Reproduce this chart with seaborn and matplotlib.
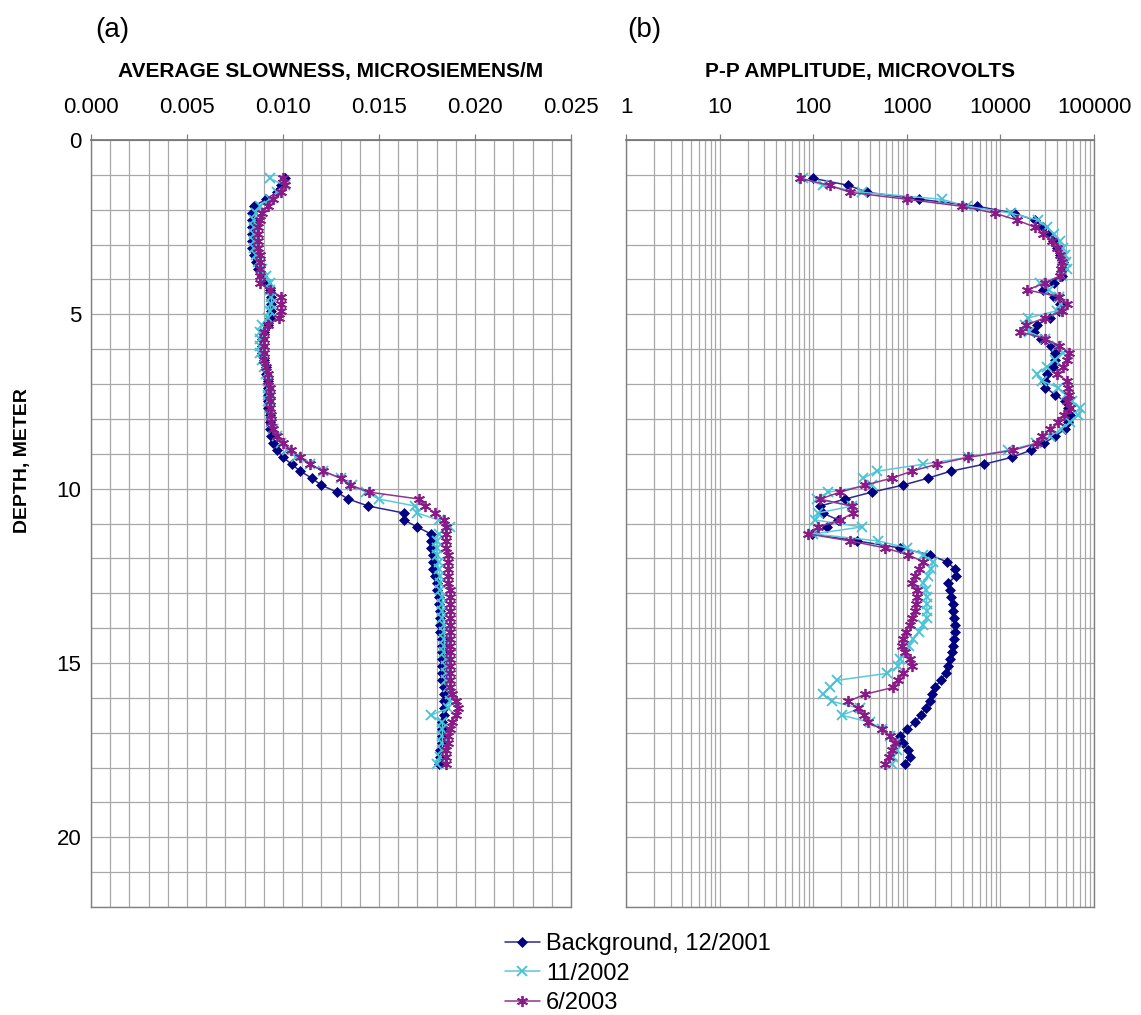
import numpy as np
import pandas as pd
import matplotlib
matplotlib.use("Agg")
import matplotlib.pyplot as plt
import matplotlib.ticker as mticker
import seaborn as sns

# ---------------- data ----------------
depth = [1.1, 1.3, 1.5, 1.7, 1.9, 2.1, 2.3, 2.5, 2.7, 2.9, 3.1, 3.3, 3.5, 3.7, 3.9,
         4.1, 4.3, 4.5, 4.7, 4.9, 5.1, 5.3, 5.5, 5.7, 5.9, 6.1, 6.3, 6.5, 6.7, 6.9,
         7.1, 7.3, 7.5, 7.7, 7.9, 8.1, 8.3, 8.5, 8.7, 8.9, 9.1, 9.3, 9.5, 9.7, 9.9,
         10.1, 10.3, 10.5, 10.7, 10.9, 11.1, 11.3, 11.5, 11.7, 11.9, 12.1, 12.3, 12.5,
         12.7, 12.9, 13.1, 13.3, 13.5, 13.7, 13.9, 14.1, 14.3, 14.5, 14.7, 14.9, 15.1,
         15.3, 15.5, 15.7, 15.9, 16.1, 16.3, 16.5, 16.7, 16.9, 17.1, 17.3, 17.5, 17.7, 17.9]

slow_bg = [0.0101, 0.0099, 0.0097, 0.0091, 0.0085, 0.0084, 0.0084, 0.0084, 0.0084, 0.0084,
           0.0084, 0.0085, 0.0086, 0.0087, 0.0089, 0.0091, 0.0093, 0.0094, 0.0094, 0.0094,
           0.0093, 0.0092, 0.0090, 0.0089, 0.0089, 0.0089, 0.0090, 0.0091, 0.0091, 0.0092,
           0.0092, 0.0092, 0.0092, 0.0092, 0.0093, 0.0093, 0.0093, 0.0094, 0.0095, 0.0097,
           0.0100, 0.01045, 0.0109, 0.0115, 0.0120, 0.0128, 0.0134, 0.01445, 0.0163, 0.0163,
           0.0170, 0.0177, 0.0177, 0.0177, 0.0178, 0.0178, 0.0178, 0.0179, 0.0180, 0.0180,
           0.0181, 0.0181, 0.0182, 0.0182, 0.0182, 0.0182, 0.0183, 0.0183, 0.0183, 0.0183,
           0.0183, 0.0183, 0.0183, 0.0184, 0.0184, 0.0184, 0.0184, 0.0184, 0.0183, 0.0183,
           0.0183, 0.0183, 0.0182, 0.0182, 0.0181]

slow_2002 = [0.0093, 0.0101, 0.0097, 0.0093, 0.0088, 0.0086, 0.0085, 0.0085, 0.0085, 0.0085,
             0.0085, 0.0086, 0.0087, 0.0089, 0.0091, 0.0093, 0.0093, 0.0094, 0.0094, 0.0093,
             0.0092, 0.0089, 0.0088, 0.0088, 0.0088, 0.0088, 0.0089, 0.0090, 0.0091, 0.0092,
             0.0092, 0.0092, 0.0092, 0.0093, 0.0093, 0.0094, 0.0095, 0.0097, 0.0099, 0.0102,
             0.0107, 0.0114, 0.0121, 0.0130, 0.0136, 0.0143, 0.0150, 0.0169, 0.0170, 0.0181,
             0.0187, 0.0181, 0.0180, 0.0180, 0.0180, 0.0181, 0.0181, 0.0182, 0.0182, 0.0182,
             0.0183, 0.0183, 0.0183, 0.0183, 0.0184, 0.0184, 0.0184, 0.0184, 0.0184, 0.0185,
             0.0185, 0.0185, 0.0185, 0.0186, 0.0187, 0.0187, 0.0186, 0.0177, 0.0183, 0.0183,
             0.0183, 0.0183, 0.0183, 0.0182, 0.0180]

slow_2003 = [0.0100, 0.0101, 0.0099, 0.0095, 0.0092, 0.0089, 0.0088, 0.0087, 0.0087, 0.0087,
             0.0087, 0.0088, 0.0088, 0.0088, 0.0088, 0.0088, 0.0093, 0.0099, 0.0099, 0.0099,
             0.0098, 0.0092, 0.0090, 0.0090, 0.0090, 0.0090, 0.0090, 0.0091, 0.0092, 0.0092,
             0.0093, 0.0093, 0.0093, 0.0093, 0.0094, 0.0094, 0.0095, 0.0097, 0.0100, 0.0104,
             0.0109, 0.0114, 0.0121, 0.0130, 0.0135, 0.0145, 0.0171, 0.0174, 0.0179, 0.0184,
             0.0185, 0.0185, 0.0185, 0.0185, 0.0186, 0.0186, 0.0186, 0.0186, 0.0186, 0.0187,
             0.0187, 0.0187, 0.0187, 0.0187, 0.0187, 0.0187, 0.0187, 0.0187, 0.0187, 0.0187,
             0.0187, 0.0187, 0.0187, 0.0187, 0.0188, 0.0190, 0.0191, 0.0190, 0.0188, 0.0187,
             0.0186, 0.0186, 0.0185, 0.0185, 0.0185]

amp_bg = [100, 237, 378, 1360, 5660, 13960, 23400, 28300, 33200, 36100,
          39800, 43300, 46300, 47000, 45100, 37400, 28800, 37400, 43300, 42000,
          34000, 24800, 22900, 27000, 34400, 38300, 38000, 36800, 31200, 30000,
          30200, 38300, 49000, 53000, 55400, 53000, 49000, 38000, 29200, 21100,
          13300, 6680, 2940, 1680, 910, 422, 219, 118, 126, 186,
          139, 96, 292, 846, 1770, 2670, 3270, 3360, 2780, 2890,
          2950, 3090, 3140, 3200, 3270, 3270, 3200, 3140, 3020, 2890,
          2780, 2600, 2300, 2000, 1840, 1750, 1600, 1420, 1225, 1000,
          850, 918, 1040, 1080, 956]

amp_2002 = [78, 128, 330, 2360, 4370, 13000, 25400, 31200, 37000, 43300,
            46500, 49000, 50000, 51000, 45000, 26500, 33000, 42000, 44000, 40000,
            19900, 18300, 20000, 30000, 39800, 46300, 38000, 31200, 24400, 27500,
            41000, 50000, 58000, 70800, 67800, 55000, 44000, 34000, 24000, 12000,
            4540, 1500, 477, 343, 420, 145, 109, 258, 113, 105,
            330, 100, 497, 997, 1500, 1920, 1800, 1700, 1500, 1600,
            1630, 1630, 1650, 1630, 1500, 1350, 1170, 1050, 956, 850,
            800, 610, 178, 151, 128, 157, 316, 201, 404, 538,
            661, 748, 778, 718, 690]

amp_2003 = [72, 150, 247, 997, 3860, 8750, 15100, 23400, 28800, 35300,
            39800, 43300, 45000, 44000, 43300, 30000, 19400, 42700, 51900, 45000,
            30000, 19000, 16200, 30000, 42000, 54400, 52000, 47000, 39800, 51000,
            53000, 54400, 51900, 55000, 48000, 41500, 34000, 28000, 24400, 13700,
            4540, 2090, 1130, 690, 357, 193, 118, 258, 269, 193,
            113, 89, 247, 585, 1040, 1500, 1350, 1225, 1130, 1280,
            1280, 1260, 1225, 1150, 1080, 980, 900, 881, 956, 1080,
            1130, 918, 800, 718, 357, 237, 303, 350, 388, 538,
            661, 748, 690, 640, 585]

series_labels = ["Background, 12/2001", "11/2002", "6/2003"]
slow_ticks = [0.000, 0.005, 0.010, 0.015, 0.020, 0.025]
amp_ticks = [1, 10, 100, 1000, 10000, 100000]
depth_ticks = [0, 5, 10, 15, 20]

# ---------------- style ----------------
sns.set_style("white")
plt.rcParams["font.family"] = ["Liberation Sans", "DejaVu Sans"]
plt.rcParams["text.color"] = "black"
plt.rcParams["xtick.color"] = "black"
plt.rcParams["ytick.color"] = "black"
plt.rcParams["axes.labelcolor"] = "black"

colors = ["#000080", "#45C3D6", "#8B1A89"]
line_colors = ["#2A2A8C", "#5CC8DA", "#92338F"]
markers = ["D", "x", (6, 2, 0)]
msizes = [5.5, 7, 8]

fig = plt.figure(figsize=(11.41, 10.15), dpi=100)
ax_a = fig.add_axes([91 / 1141, 1 - 907 / 1015, 480 / 1141, 767 / 1015])
ax_b = fig.add_axes([626 / 1141, 1 - 907 / 1015, 468 / 1141, 767 / 1015])
ax_b.set_xscale("log")

def draw(ax, values_list):
    for vals, lab, c, lc, m, ms in zip(values_list, series_labels, colors,
                                       line_colors, markers, msizes):
        df = pd.DataFrame({"value": vals, "depth": depth})
        sns.lineplot(data=df, x="value", y="depth", orient="y", estimator=None,
                     sort=True, ax=ax, color=lc, linewidth=1.1, label=lab,
                     marker=m, markersize=ms, markerfacecolor=c,
                     markeredgecolor=c, markeredgewidth=1.3 if m != "D" else 0.5,
                     legend=False)

draw(ax_a, [slow_bg, slow_2002, slow_2003])
draw(ax_b, [amp_bg, amp_2002, amp_2003])

grid_c = "#a8a8a8"
for ax in (ax_a, ax_b):
    ax.set_ylim(22, 0)
    ax.set_ylabel("")
    ax.set_xlabel("")
    ax.yaxis.set_major_locator(mticker.FixedLocator(depth_ticks))
    ax.yaxis.set_minor_locator(mticker.MultipleLocator(1))
    ax.grid(True, which="both", axis="both", color=grid_c, linewidth=0.9)
    ax.set_axisbelow(True)
    ax.xaxis.tick_top()
    ax.tick_params(axis="x", which="major", direction="out", length=4,
                   width=0.9, color="#808080", labelcolor="black",
                   labelsize=16, pad=12)
    ax.tick_params(axis="y", which="major", direction="out", length=4,
                   width=0.9, color="#808080", labelcolor="black",
                   labelsize=16, pad=3)
    ax.tick_params(which="minor", length=0)
    for s in ax.spines.values():
        s.set_color("#808080")
        s.set_linewidth(1.0)
    ax.spines["top"].set_linewidth(1.3)
    ax.spines["top"].set_color("#777777")

ax_a.set_xlim(0, 0.025)
ax_a.xaxis.set_major_locator(mticker.FixedLocator(slow_ticks))
ax_a.xaxis.set_minor_locator(mticker.MultipleLocator(0.001))
ax_a.xaxis.set_major_formatter(mticker.FormatStrFormatter("%.3f"))

ax_b.set_xlim(1, 100000)
ax_b.xaxis.set_major_locator(mticker.FixedLocator(amp_ticks))
ax_b.xaxis.set_minor_locator(mticker.LogLocator(base=10, subs=np.arange(2, 10)))
ax_b.xaxis.set_major_formatter(mticker.FuncFormatter(lambda v, p: f"{int(round(v))}"))
ax_b.xaxis.set_minor_formatter(mticker.NullFormatter())
ax_b.tick_params(axis="y", labelleft=False)

ax_a.text(0.5, 1.089, "AVERAGE SLOWNESS, MICROSIEMENS/M", transform=ax_a.transAxes,
          ha="center", va="center", fontsize=15, fontweight="bold", color="black")
ax_b.text(0.5, 1.089, "P-P AMPLITUDE, MICROVOLTS", transform=ax_b.transAxes,
          ha="center", va="center", fontsize=15, fontweight="bold", color="black")
fig.text(23 / 1141, 1 - 461 / 1015, "DEPTH, METER", rotation=90, ha="center",
         va="center", fontsize=14, fontweight="bold", color="black")

fig.text(95 / 1141, 1 - 30 / 1015, "(a)", fontsize=20, ha="left", va="center")
fig.text(627 / 1141, 1 - 30 / 1015, "(b)", fontsize=20, ha="left", va="center")

handles, labels = ax_a.get_legend_handles_labels()
fig.legend(handles, labels, loc="upper center", bbox_to_anchor=(0.559, 0.097),
           frameon=False, fontsize=17, handlelength=1.5, handletextpad=0.25,
           labelspacing=0.32, borderpad=0.2, labelcolor="black")

fig.savefig("out.png", dpi=100)
